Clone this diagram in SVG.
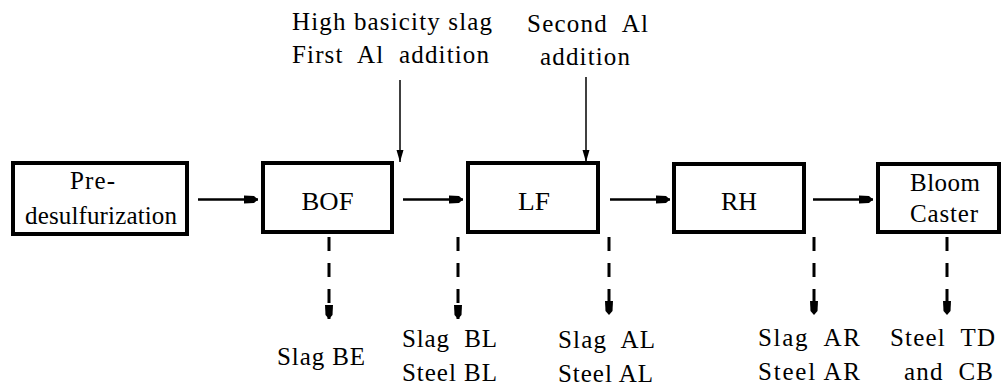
<svg xmlns="http://www.w3.org/2000/svg" width="1001" height="389" viewBox="0 0 1001 389">
  <style>
    .box { fill: #ffffff; stroke: #000000; stroke-width: 4; }
    .lbl { font-family: 'Liberation Serif', 'Times New Roman', serif; font-size: 25px; fill: #000000; }
    .mid { text-anchor: middle; }
    .flow { stroke: #000000; stroke-width: 2.5; fill: none; marker-end: url(#headBig); }
    .feed { stroke: #000000; stroke-width: 1.5; fill: none; marker-end: url(#headSmall); }
    .out { stroke: #000000; stroke-width: 3; stroke-dasharray: 14 12; fill: none; marker-end: url(#headBig); }
  </style>
  <defs>
    <marker id="headBig" markerUnits="userSpaceOnUse" orient="auto" markerWidth="16" markerHeight="12" refX="14" refY="6" viewBox="0 0 16 12">
      <path d="M0,2 L10,2.5 L14,6 L10,9.5 L0,10 Z" fill="#000000"/>
    </marker>
    <marker id="headSmall" markerUnits="userSpaceOnUse" orient="auto" markerWidth="14" markerHeight="10" refX="12" refY="5" viewBox="0 0 14 10">
      <path d="M0,1.5 L12,5 L0,8.5 Z" fill="#000000"/>
    </marker>
  </defs>
  <rect width="1001" height="389" fill="#ffffff"/>

  <!-- process units -->
  <g id="node-predesulfurization">
    <rect class="box" x="13" y="163" width="174" height="71"/>
    <text class="lbl" x="70" y="189" textLength="45" lengthAdjust="spacing">Pre-</text>
    <text class="lbl" x="25" y="224" textLength="152" lengthAdjust="spacing">desulfurization</text>
  </g>
  <g id="node-bof">
    <rect class="box" x="263" y="163" width="129" height="69"/>
    <text class="lbl mid" x="327.5" y="209.5" textLength="52" lengthAdjust="spacingAndGlyphs">BOF</text>
  </g>
  <g id="node-lf">
    <rect class="box" x="468" y="163" width="130" height="69"/>
    <text class="lbl mid" x="534" y="209.5" textLength="32" lengthAdjust="spacingAndGlyphs">LF</text>
  </g>
  <g id="node-rh">
    <rect class="box" x="674" y="164" width="130" height="68"/>
    <text class="lbl mid" x="739" y="209.5" textLength="36" lengthAdjust="spacingAndGlyphs">RH</text>
  </g>
  <g id="node-caster">
    <rect class="box" x="878" y="164" width="121" height="68"/>
    <text class="lbl" x="910" y="191" textLength="70" lengthAdjust="spacing">Bloom</text>
    <text class="lbl" x="910" y="222" textLength="68" lengthAdjust="spacing">Caster</text>
  </g>

  <!-- additions fed from above -->
  <g id="label-first-addition">
    <text class="lbl" x="292" y="30" textLength="200" lengthAdjust="spacing">High basicity slag</text>
    <text class="lbl" x="292" y="63" textLength="197" lengthAdjust="spacing" xml:space="preserve">First  Al  addition</text>
  </g>
  <g id="label-second-addition">
    <text class="lbl" x="527" y="32" textLength="121" lengthAdjust="spacing" xml:space="preserve">Second  Al</text>
    <text class="lbl" x="540" y="65" textLength="90" lengthAdjust="spacing">addition</text>
  </g>

  <!-- sampling points below -->
  <g id="sample-be">
    <text class="lbl" x="277" y="365" textLength="88" lengthAdjust="spacing">Slag BE</text>
  </g>
  <g id="sample-bl">
    <text class="lbl" x="402" y="347" textLength="95" lengthAdjust="spacing" xml:space="preserve">Slag  BL</text>
    <text class="lbl" x="402" y="381" textLength="95" lengthAdjust="spacing">Steel BL</text>
  </g>
  <g id="sample-al">
    <text class="lbl" x="558" y="348" textLength="97" lengthAdjust="spacing" xml:space="preserve">Slag  AL</text>
    <text class="lbl" x="558" y="382" textLength="95" lengthAdjust="spacing">Steel AL</text>
  </g>
  <g id="sample-ar">
    <text class="lbl" x="758" y="346" textLength="102" lengthAdjust="spacing" xml:space="preserve">Slag  AR</text>
    <text class="lbl" x="758" y="380" textLength="102" lengthAdjust="spacing">Steel AR</text>
  </g>
  <g id="sample-td-cb">
    <text class="lbl" x="890" y="346" textLength="105" lengthAdjust="spacing" xml:space="preserve">Steel  TD</text>
    <text class="lbl" x="904" y="380" textLength="89" lengthAdjust="spacing" xml:space="preserve">and  CB</text>
  </g>

  <!-- connectors -->
  <g id="connectors">
    <line class="flow" x1="198" y1="199.5" x2="258" y2="199.5"/>
    <line class="flow" x1="403" y1="199.5" x2="463" y2="199.5"/>
    <line class="flow" x1="610" y1="199.5" x2="670" y2="199.5"/>
    <line class="flow" x1="813" y1="199.5" x2="873" y2="199.5"/>

    <line class="feed" x1="400" y1="80" x2="400" y2="162"/>
    <line class="feed" x1="586" y1="77" x2="586" y2="162"/>

    <line class="out" x1="329" y1="237" x2="329" y2="319"/>
    <line class="out" x1="458" y1="237" x2="458" y2="319"/>
    <line class="out" x1="609" y1="237" x2="609" y2="315"/>
    <line class="out" x1="814" y1="237" x2="814" y2="315"/>
    <line class="out" x1="947" y1="237" x2="947" y2="315"/>
  </g>
</svg>
